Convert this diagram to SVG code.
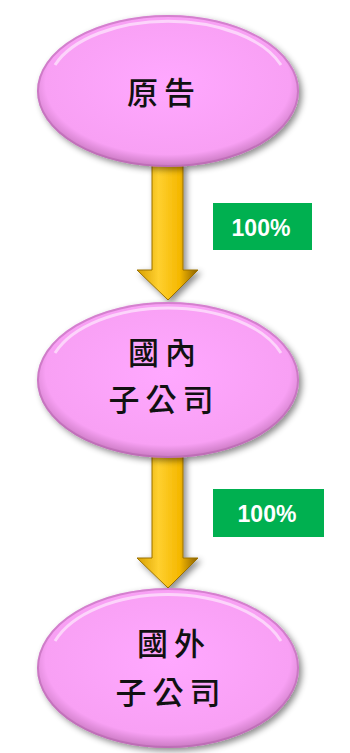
<svg xmlns="http://www.w3.org/2000/svg" width="350" height="753" viewBox="0 0 350 753">
<style>
.lbl{font-family:"Noto Sans CJK TC","Noto Sans CJK SC",sans-serif;font-size:31px;font-weight:500;fill:#111;text-anchor:middle;letter-spacing:6px}
.pct{font-family:"Liberation Sans",Arial,sans-serif;font-size:23px;font-weight:bold;fill:#fff;text-anchor:middle}
.box{fill:#00B050}
.node{fill:url(#pinkG);filter:url(#sh)}
.hl{fill:none;stroke:#fff;stroke-opacity:0.55;stroke-width:3}
.rim{fill:none;stroke:#B060A8;stroke-opacity:0.5;stroke-width:2}
.arrow{fill:url(#goldG);stroke:#9A7000;stroke-width:1;filter:url(#sh)}
</style>
<defs>
<radialGradient id="pinkG" cx="0.5" cy="0.45" r="0.55">
<stop offset="0" stop-color="#FFA8FF"/>
<stop offset="0.85" stop-color="#F8A0F4"/>
<stop offset="1" stop-color="#C878C0"/>
</radialGradient>
<linearGradient id="goldG" x1="0" y1="0" x2="1" y2="0">
<stop offset="0" stop-color="#D8A000"/>
<stop offset="0.35" stop-color="#FFD030"/>
<stop offset="0.7" stop-color="#F5B800"/>
<stop offset="1" stop-color="#8A6000"/>
</linearGradient>
<filter id="sh" x="-20%" y="-20%" width="140%" height="140%">
<feDropShadow dx="3" dy="3" stdDeviation="3" flood-color="#000" flood-opacity="0.45"/>
</filter>
</defs>
<g id="connectors">
<path class="arrow" d="M152,165 L183,165 L183,270 L198,270 L168,300 L137,270 L152,270 Z"/>
<path class="arrow" d="M152,455 L183,455 L183,558 L198,558 L168,588 L137,558 L152,558 Z"/>
</g>
<g id="n1">
<ellipse class="node" cx="168" cy="91" rx="131" ry="76"/>
<ellipse class="rim" cx="168" cy="91" rx="130" ry="75"/>
<path class="hl" d="M55,65 A120,66 0 0 1 281,65"/>
<text class="lbl" x="164" y="104">原告</text>
</g>
<g id="l1">
<rect class="box" x="213" y="203" width="99" height="47"/>
<text class="pct" x="261" y="236">100%</text>
</g>
<g id="n2">
<ellipse class="node" cx="168" cy="380" rx="131" ry="78"/>
<ellipse class="rim" cx="168" cy="380" rx="130" ry="77"/>
<path class="hl" d="M55,353 A120,68 0 0 1 281,353"/>
<text class="lbl" x="165" y="364">國內</text>
<text class="lbl" x="164" y="411">子公司</text>
</g>
<g id="l2">
<rect class="box" x="213" y="489" width="111" height="48"/>
<text class="pct" x="267" y="522">100%</text>
</g>
<g id="n3">
<ellipse class="node" cx="168" cy="668" rx="131" ry="80"/>
<ellipse class="rim" cx="168" cy="668" rx="130" ry="79"/>
<path class="hl" d="M55,641 A120,70 0 0 1 281,641"/>
<text class="lbl" x="174" y="655">國外</text>
<text class="lbl" x="171" y="704">子公司</text>
</g>
</svg>
